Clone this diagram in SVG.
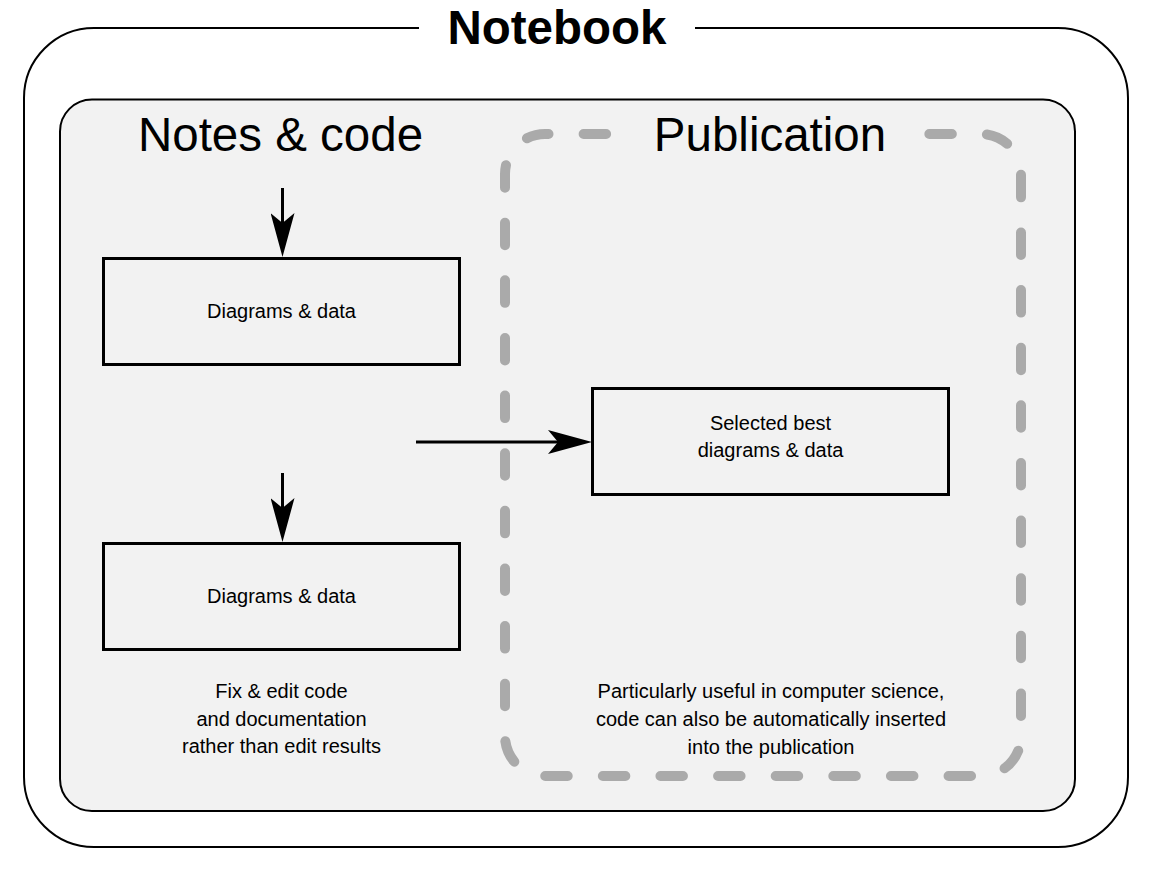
<svg xmlns="http://www.w3.org/2000/svg" width="1152" height="870" viewBox="0 0 1152 870">
  <style>
    .frame { stroke: #000; stroke-width: 2; }
    .box { fill: #f2f2f2; stroke: #000; stroke-width: 3; }
    .title { font-family: "Liberation Sans", Arial, sans-serif; font-size: 47.5px; fill: #000; text-anchor: middle; }
    .label { font-family: "Liberation Sans", Arial, sans-serif; font-size: 20px; fill: #000; text-anchor: middle; }
    .conn { stroke: #000; stroke-width: 3; fill: none; }
  </style>
  <defs>
    <marker id="arrow" viewBox="0 0 44 24" refX="10" refY="12" markerWidth="44" markerHeight="24" markerUnits="userSpaceOnUse" orient="auto">
      <path d="M0,0 L44,12 L0,24 L10,12 Z" fill="#000"/>
    </marker>
  </defs>
  <rect width="1152" height="870" fill="#fff"/>

  <g id="notebook">
    <rect class="frame" x="24" y="28" width="1104" height="819" rx="70" ry="70" fill="#fff"/>
    <rect x="419" y="14" width="276" height="28" fill="#fff"/>
    <text x="557" y="44" class="title" font-weight="bold">Notebook</text>
  </g>

  <g id="inner">
    <rect class="frame" x="60" y="99.5" width="1015" height="711.5" rx="32" ry="32" fill="#f2f2f2"/>
    <text x="280.5" y="151" class="title">Notes &amp; code</text>
  </g>

  <g id="publication">
    <rect x="505" y="134" width="516" height="642" rx="40" ry="40" fill="none" stroke="#aaaaaa" stroke-width="10" stroke-linecap="round" stroke-dasharray="22.5 35.12" stroke-dashoffset="19"/>
    <rect x="630" y="118" width="280" height="34" fill="#f2f2f2"/>
    <text x="770" y="151" class="title">Publication</text>
    <text class="label" x="771" y="698">Particularly useful in computer science,</text>
    <text class="label" x="771" y="726">code can also be automatically inserted</text>
    <text class="label" x="771" y="754">into the publication</text>
  </g>

  <g id="box1">
    <rect class="box" x="103.5" y="258.5" width="356" height="106"/>
    <text class="label" x="281.5" y="318">Diagrams &amp; data</text>
  </g>

  <g id="box2">
    <rect class="box" x="103.5" y="543.5" width="356" height="106"/>
    <text class="label" x="281.5" y="603">Diagrams &amp; data</text>
  </g>

  <g id="box3">
    <rect class="box" x="592.5" y="388.5" width="356" height="106"/>
    <text class="label" x="770.5" y="430">Selected best</text>
    <text class="label" x="770.5" y="457">diagrams &amp; data</text>
  </g>

  <g id="note">
    <text class="label" x="281.5" y="698">Fix &amp; edit code</text>
    <text class="label" x="281.5" y="726">and documentation</text>
    <text class="label" x="281.5" y="753">rather than edit results</text>
  </g>

  <g id="connectors">
    <line class="conn" x1="282.5" y1="188" x2="282.5" y2="223" marker-end="url(#arrow)"/>
    <line class="conn" x1="282.5" y1="473" x2="282.5" y2="508" marker-end="url(#arrow)"/>
    <line class="conn" x1="416" y1="442" x2="558" y2="442" marker-end="url(#arrow)"/>
  </g>
</svg>
